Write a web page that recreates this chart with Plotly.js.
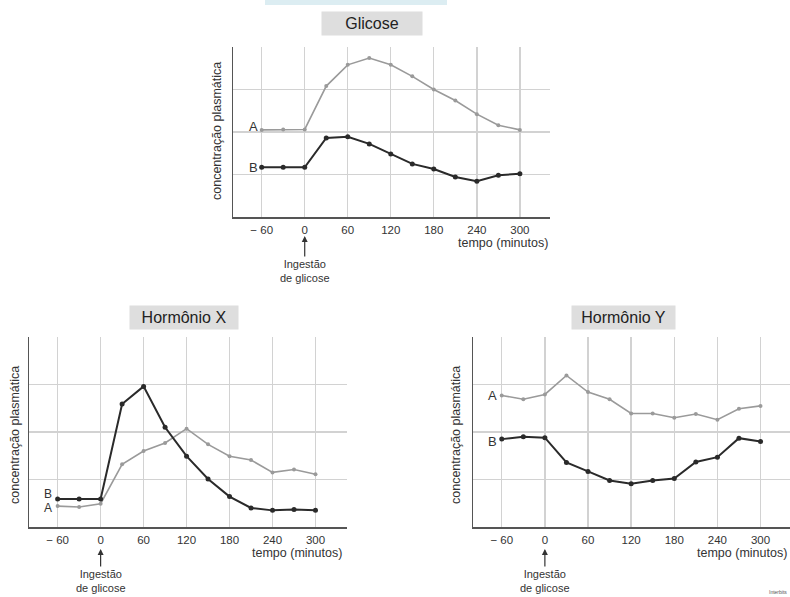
<!DOCTYPE html>
<html>
<head>
<meta charset="utf-8">
<script src="https://cdn.plot.ly/plotly-3.0.1.min.js"></script>
<style>html,body{margin:0;padding:0;background:#fff;}#chart{width:790px;height:597px;}</style>
</head>
<body>
<div id="chart"></div>
<script>
// ---- data ----
const tempo = [-60, -30, 0, 30, 60, 90, 120, 150, 180, 210, 240, 270, 300];
const tickVals = [-60, 0, 60, 120, 180, 240, 300];
const tickLabels = ['− 60', '0', '60', '120', '180', '240', '300'];

const glicoseA = [2.05, 2.06, 2.06, 3.08, 3.58, 3.74, 3.58, 3.31, 3.0, 2.74, 2.42, 2.16, 2.05];
const glicoseB = [1.17, 1.17, 1.17, 1.86, 1.89, 1.72, 1.48, 1.25, 1.13, 0.94, 0.84, 0.98, 1.02];

const hormXA = [0.44, 0.42, 0.49, 1.32, 1.60, 1.77, 2.07, 1.74, 1.49, 1.41, 1.15, 1.21, 1.11];
const hormXB = [0.59, 0.59, 0.59, 2.59, 2.96, 2.10, 1.49, 1.01, 0.64, 0.40, 0.35, 0.37, 0.35];

const hormYA = [2.77, 2.69, 2.79, 3.19, 2.84, 2.69, 2.39, 2.39, 2.30, 2.38, 2.26, 2.49, 2.55];
const hormYB = [1.85, 1.90, 1.88, 1.36, 1.17, 0.98, 0.91, 0.98, 1.02, 1.37, 1.47, 1.87, 1.80];

const titles = ['Glicose', 'Hormônio X', 'Hormônio Y'];
const yLabel = 'concentração plasmática';
const xLabel = 'tempo (minutos)';
const ingest = 'Ingestão<br>de glicose';

// ---- styling / layout helpers ----
const W = 790, H = 597;
const px = v => v / W;
const py = v => 1 - v / H;
const FONT = 'Liberation Sans, Arial, sans-serif';
const colA = '#9a9a9a', colB = '#2a2a2a';

function series(x, y, col, w, ms, xa, ya) {
  return {x: x, y: y, type: 'scatter', mode: 'lines+markers', xaxis: xa, yaxis: ya,
    line: {color: col, width: w}, marker: {color: col, size: ms}, hoverinfo: 'skip', showlegend: false};
}

const traces = [
  series(tempo, glicoseA, colA, 1.6, 4, 'x', 'y'),
  series(tempo, glicoseB, colB, 2, 5, 'x', 'y'),
  series(tempo, hormXA, colA, 1.6, 4, 'x2', 'y2'),
  series(tempo, hormXB, colB, 2, 5, 'x2', 'y2'),
  series(tempo, hormYA, colA, 1.6, 4, 'x3', 'y3'),
  series(tempo, hormYB, colB, 2, 5, 'x3', 'y3')
];

function xaxis(d0, d1, r1, anchor) {
  return {domain: [px(d0), px(d1)], range: [-100, r1], anchor: anchor,
    tickvals: tickVals, ticktext: tickLabels, ticks: '', showgrid: true,
    gridcolor: '#d2d2d2', gridwidth: 1.3, zeroline: false, showline: true,
    linecolor: '#555', linewidth: 1.5, tickfont: {family: FONT, size: 11.5, color: '#333'},
    ticklabelstandoff: 2, fixedrange: true};
}
function yaxis(p0, p1, anchor) {
  return {domain: [py(p1), py(p0)], range: [0, 4], anchor: anchor,
    tickvals: [1, 2, 3], showticklabels: false, ticks: '', showgrid: true,
    gridcolor: '#d2d2d2', gridwidth: 1.3, zeroline: false, showline: true,
    linecolor: '#555', linewidth: 1.5, fixedrange: true};
}

const ann = [];
function txt(t, x, y, size, opts) {
  ann.push(Object.assign({text: t, xref: 'paper', yref: 'paper', x: px(x), y: py(y),
    xanchor: 'center', yanchor: 'middle',
    showarrow: false, font: {family: FONT, size: size, color: '#333'}}, opts || {}));
}
function titleBox(t, cx, cy, w) {
  ann.push({text: t, xref: 'paper', yref: 'paper', x: px(cx), y: py(cy), showarrow: false,
    xanchor: 'center', yanchor: 'middle',
    font: {family: FONT, size: 16, color: '#222'}, bgcolor: '#dedede', width: w, height: 21, borderpad: 1});
}
function ingestion(xa, tipY, ay) {
  ann.push({text: ingest, xref: xa, yref: 'paper', x: 0, y: py(tipY), showarrow: true,
    arrowhead: 2, arrowsize: 1, arrowwidth: 1.2, arrowcolor: '#333', ax: 0, ay: ay,
    font: {family: FONT, size: 11, color: '#333'}});
}

// Glicose
titleBox(titles[0], 372, 23, 98);
txt(yLabel, 217, 131, 12.5, {textangle: -90});
txt('A', 253, 126, 13);
txt('B', 253, 167, 13);
txt(xLabel, 550, 243, 12.5, {xanchor: 'right'});
ingestion('x', 236, 35);

// Hormônio X
titleBox(titles[1], 184, 317, 106);
txt(yLabel, 15, 435, 12.5, {textangle: -90});
txt('B', 48, 494, 12);
txt('A', 48, 508, 12);
txt(xLabel, 344, 553, 12.5, {xanchor: 'right'});
ingestion('x2', 549, 32);

// Hormônio Y
titleBox(titles[2], 623, 317, 101);
txt(yLabel, 456, 435, 12.5, {textangle: -90});
txt('A', 492, 395, 13);
txt('B', 492, 441, 13);
txt(xLabel, 789, 553, 12.5, {xanchor: 'right'});
ingestion('x3', 549, 32);

txt('Interbits', 789, 592, 5, {xanchor: 'right', font: {family: FONT, size: 5, color: '#555'}});

const layout = {
  width: W, height: H, margin: {l: 0, r: 0, t: 0, b: 0},
  paper_bgcolor: '#fff', plot_bgcolor: '#fff', showlegend: false,
  xaxis: xaxis(233, 550, 342, 'y'),
  yaxis: yaxis(47, 217, 'x'),
  xaxis2: xaxis(29, 347, 344, 'y2'),
  yaxis2: yaxis(337, 527, 'x2'),
  xaxis3: xaxis(473, 790, 341, 'y3'),
  yaxis3: yaxis(337, 527, 'x3'),
  annotations: ann,
  shapes: [{type: 'rect', xref: 'paper', yref: 'paper', x0: px(265), x1: px(447), y0: py(5), y1: 1,
    fillcolor: '#dcedf2', line: {width: 0}}]
};

Plotly.newPlot('chart', traces, layout, {displayModeBar: false, staticPlot: true});
</script>
</body>
</html>
